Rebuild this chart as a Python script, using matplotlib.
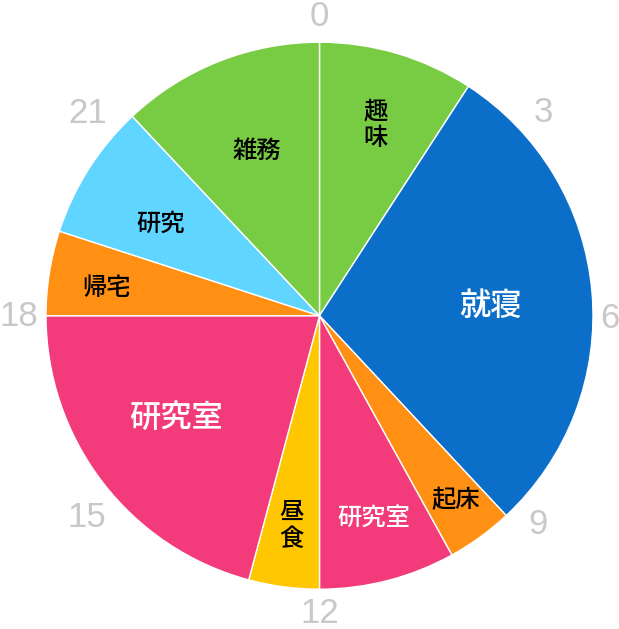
import numpy as np
import matplotlib
matplotlib.use('Agg')
import matplotlib.pyplot as plt

plt.rcParams['font.family'] = ['Noto Sans CJK JP', 'DejaVu Sans']

# 一日の予定 (時刻の境界)
labels = ['趣味', '就寝', '起床', '研究室', '昼食', '研究室', '帰宅', '研究', '雑務']
bounds = [0, 2.2, 9.13, 10.07, 12, 13, 18, 19.2, 21.12, 24]
hours = np.diff(bounds)
colors = ['#78CC44', '#0B6EC8', '#FF9013', '#F33B7B', '#FFC700',
          '#F33B7B', '#FF9013', '#5FD5FF', '#78CC44']
text_colors = ['black', 'white', 'black', 'white', 'black',
               'white', 'black', 'black', 'black']
text_sizes = [17.5, 22.5, 17.5, 17.5, 17.5, 22.5, 17.5, 17.5, 17.5]
vertical = [True, False, False, False, True, False, False, False, False]
# ラベルの位置 (半径の割合, 角度)
label_r = [0.727, 0.626, 0.837, 0.764, 0.775, 0.645, 0.785, 0.67, 0.645]
label_ang = [16.4, 86.8, 143.6, 165.0, 187.7, 234.7, 277.5, 300.0, 339.1]

hour_ticks = [0, 3, 6, 9, 12, 15, 18, 21]

W, H = 619, 629
cx, cy, R = 319.5, H - 315.7, 273.5

fig = plt.figure(figsize=(W / 100, H / 100), dpi=100)
ax = fig.add_axes([0, 0, 1, 1])

ax.pie(hours, colors=colors, startangle=90, counterclock=False,
       center=(cx, cy), radius=R, frame=True,
       wedgeprops=dict(edgecolor='white', linewidth=1.0))
ax.set_xlim(0, W)
ax.set_ylim(0, H)
ax.set_aspect('equal')
ax.axis('off')

# 各区間のラベル
for i, lab in enumerate(labels):
    a = np.deg2rad(label_ang[i])
    r = label_r[i] * R
    x = cx + r * np.sin(a)
    y = cy + r * np.cos(a)
    txt = '\n'.join(lab) if vertical[i] else lab
    ax.text(x, y, txt, ha='center', va='center', color=text_colors[i],
            fontsize=text_sizes[i], fontweight='medium', linespacing=1.05)

# 時刻の目盛り
hour_r = [300, 303, 290, 302, 297, 307, 301, 308]
hour_da = [0, 2.6, 0.3, -1.4, 0, 4.2, 0, -3.8]
for h, r, da in zip(hour_ticks, hour_r, hour_da):
    a = np.deg2rad(h * 15 + da)
    x = cx + r * np.sin(a)
    y = cy + r * np.cos(a)
    ax.text(x, y - 10.5, str(h), ha='center', va='baseline', color='#C8C8C8',
            fontsize=25, family='Liberation Sans')

plt.savefig('out.png', dpi=100)
